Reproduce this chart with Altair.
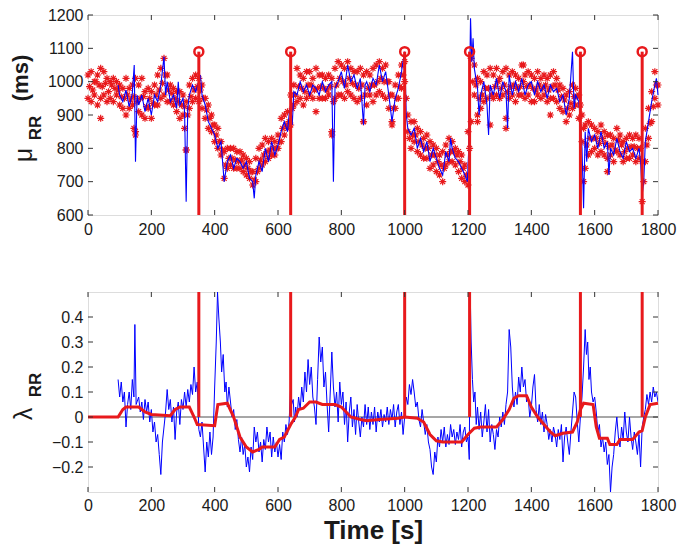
import altair as alt
import pandas as pd

W, H = 570, 200
RED = "#e8191c"
BLUE = "#0000ff"
FONT = "Liberation Sans"
AX = "#333333"

change_points = [350, 640, 1000, 1205, 1555, 1750]
marker_level = 1090

x_ticks = [0, 200, 400, 600, 800, 1000, 1200, 1400, 1600, 1800]
mu_ticks = [600, 700, 800, 900, 1000, 1100, 1200]
lam_ticks = [-0.2, -0.1, 0, 0.1, 0.2, 0.3, 0.4]

# ---- top panel: blue RR trace (ms)
mu_blue_t = [95, 100, 110, 120, 130, 140, 146, 150, 155, 160, 170, 180, 190, 200, 210, 220, 230, 240, 245, 250,
             260, 270, 280, 285, 290, 300, 305, 310, 315, 320, 330, 340, 350, 355, 360, 370, 380, 390, 400, 410,
             420, 430, 440, 450, 460, 470, 480, 490, 500, 510, 520, 525, 530, 540, 550, 560, 570, 580, 590, 600,
             610, 620, 630, 635, 640, 645, 650, 660, 670, 680, 690, 700, 710, 720, 730, 740, 750, 760, 770, 775,
             780, 790, 800, 810, 820, 830, 840, 850, 860, 870, 875, 880, 890, 900, 910, 920, 930, 940, 950, 960,
             970, 980, 990, 1000, 1005, 1010, 1020, 1030, 1040, 1050, 1060, 1070, 1080, 1090, 1100, 1110, 1120, 1130, 1140, 1145,
             1150, 1160, 1170, 1180, 1190, 1198, 1202, 1208, 1212, 1216, 1220, 1230, 1235, 1240, 1250, 1260, 1265, 1270, 1280, 1290,
             1300, 1310, 1320, 1325, 1330, 1340, 1350, 1360, 1370, 1380, 1390, 1400, 1410, 1420, 1430, 1440, 1450, 1460, 1470, 1480,
             1490, 1500, 1510, 1520, 1530, 1535, 1540, 1550, 1555, 1560, 1565, 1570, 1575, 1580, 1590, 1600, 1610, 1620, 1630, 1640,
             1645, 1650, 1660, 1670, 1680, 1690, 1700, 1710, 1720, 1730, 1740, 1745, 1750, 1755, 1760, 1770, 1780, 1790, 1795, 1800]
mu_blue_v = [990, 960, 940, 975, 925, 965, 1050, 760, 960, 930, 960, 910, 950, 900, 960, 940, 990, 1075, 960, 1000,
             940, 960, 920, 1000, 930, 950, 910, 640, 920, 960, 990, 970, 1000, 1020, 960, 930, 880, 860, 840, 800,
             820, 700, 760, 780, 740, 770, 760, 740, 760, 710, 700, 650, 720, 760, 730, 800, 760, 820, 780, 810,
             850, 880, 850, 900, 930, 870, 970, 960, 1000, 970, 990, 960, 990, 980, 960, 1000, 970, 990, 1000, 700,
             980, 1000, 1030, 980, 1050, 1000, 1020, 980, 1010, 870, 990, 1000, 970, 1010, 990, 1050, 1000, 1030, 960, 880,
             950, 980, 1030, 1090, 900, 860, 840, 860, 800, 830, 790, 820, 760, 800, 770, 740, 720, 790, 760, 830,
             800, 770, 760, 740, 720, 700, 790, 1190, 1060, 1130, 1040, 980, 900, 960, 1000, 930, 840, 990, 960, 1010,
             950, 1000, 970, 860, 1020, 960, 1000, 970, 1010, 960, 990, 1000, 960, 1000, 970, 990, 950, 990, 970, 980,
             940, 960, 900, 950, 1090, 920, 960, 940, 880, 800, 620, 850, 760, 860, 820, 840, 800, 850, 800, 820,
             720, 800, 780, 830, 790, 770, 820, 790, 800, 770, 800, 760, 660, 700, 820, 880, 940, 990, 1010, 960]

# ---- top panel: red asterisks (upper / lower rows every 10 s, middle row offset by 5 s)
star_t = list(range(0, 1801, 10))
star_hi = [1020, 1030, 1000, 1020, 1040, 1030, 1010, 1000, 1010, 1000,
           990, 980, 1010, 980, 990, 1010, 990, 1010, 970, 980,
           970, 990, 1020, 1040, 1070, 1020, 990, 980, 970, 970,
           960, 940, 990, 1010, 1020, 1010, 990, 950, 930, 900,
           870, 860, 820, 790, 800, 800, 800, 790, 790, 780,
           770, 760, 730, 770, 800, 810, 830, 820, 830, 820,
           840, 890, 900, 910, 960, 990, 1040, 1020, 1010, 1030,
           1030, 1010, 1040, 1020, 1020, 1010, 1020, 1010, 1040, 1060,
           1050, 1040, 1060, 1040, 1030, 1030, 1040, 1020, 1030, 1020,
           1040, 1050, 1060, 1040, 1050, 1000, 960, 990, 1020, 1050,
           1060, 900, 880, 880, 860, 850, 830, 840, 820, 810,
           800, 780, 790, 810, 830, 820, 800, 790, 780, 750,
           850, 1070, 1050, 1010, 1000, 1030, 1020, 1040, 1020, 1040,
           1010, 1030, 1040, 1020, 1030, 1020, 1010, 1050, 1020, 1030,
           1020, 1010, 1030, 1010, 1020, 1010, 1020, 1030, 1010, 990,
           980, 960, 970, 990, 980, 960, 900, 870, 880, 870,
           860, 850, 870, 850, 840, 840, 830, 860, 840, 820,
           830, 840, 830, 840, 830, 760, 860, 920, 970, 1030,
           990]
star_lo = [950, 940, 960, 930, 950, 960, 940, 950, 940, 960,
           930, 920, 900, 920, 930, 850, 910, 900, 890, 920,
           890, 930, 930, 950, 960, 940, 940, 930, 910, 890,
           900, 795, 920, 940, 950, 940, 920, 890, 860, 850,
           820, 800, 780, 710, 740, 750, 740, 740, 740, 730,
           720, 710, 690, 700, 740, 750, 760, 770, 780, 780,
           800, 820, 840, 860, 870, 930, 940, 950, 930, 950,
           960, 950, 910, 950, 950, 950, 960, 840, 950, 960,
           960, 950, 970, 960, 950, 940, 950, 880, 930, 960,
           940, 960, 970, 960, 950, 920, 880, 920, 950, 980,
           1000, 850, 800, 820, 790, 780, 770, 770, 740, 750,
           730, 720, 700, 750, 760, 760, 750, 730, 710, 700,
           690, 880, 960, 900, 920, 940, 950, 870, 950, 960,
           950, 960, 890, 950, 960, 940, 960, 960, 950, 960,
           940, 940, 960, 950, 960, 940, 950, 950, 940, 920,
           910, 880, 900, 920, 930, 890, 820, 740, 780, 790,
           800, 780, 790, 780, 770, 780, 760, 790, 780, 760,
           770, 770, 780, 760, 770, 640, 760, 830, 880, 950,
           930]
star_mid_t = list(range(5, 1800, 10))
star_mid = [985, 975, 1000, 990, 985, 995, 970, 990, 980, 975,
            955, 950, 960, 945, 955, 940, 950, 955, 925, 950,
            935, 960, 975, 995, 1020, 975, 965, 950, 940, 930,
            925, 900, 955, 975, 985, 975, 950, 915, 890, 870,
            840, 820, 795, 750, 770, 770, 765, 760, 765, 750,
            740, 730, 705, 730, 765, 780, 790, 795, 800, 800,
            820, 860, 870, 880, 920, 960, 985, 980, 970, 990,
            990, 975, 980, 985, 980, 975, 985, 940, 990, 1010,
            1000, 990, 1010, 995, 990, 980, 990, 960, 980, 990,
            990, 1000, 1010, 1000, 1000, 960, 920, 950, 985, 1020,
            950, 830, 840, 840, 820, 810, 800, 800, 780, 780,
            760, 750, 740, 780, 790, 790, 780, 760, 740, 720,
            800, 1000, 990, 950, 960, 980, 980, 960, 985, 1000,
            980, 990, 970, 985, 990, 980, 985, 1000, 985, 990,
            980, 975, 990, 980, 990, 975, 985, 990, 975, 955,
            945, 920, 935, 955, 955, 930, 860, 810, 830, 830,
            830, 815, 830, 815, 805, 810, 795, 825, 810, 790,
            800, 805, 805, 800, 800, 700, 810, 875, 925, 990]
out_t = [40, 145, 150, 305, 310, 770, 870, 960, 1230, 1320, 1375, 1460, 1565, 1640]
out_v = [890, 860, 840, 860, 795, 850, 880, 870, 880, 860, 1050, 900, 700, 730]

# ---- bottom panel: blue lambda trace
lam_blue_t = [95, 100, 105, 110, 115, 120, 125, 130, 135, 140, 145, 148, 152, 160, 165, 170, 175, 180, 185, 190,
              195, 200, 205, 210, 215, 220, 225, 230, 235, 240, 245, 250, 255, 260, 265, 270, 275, 280, 285, 290,
              295, 300, 305, 310, 315, 320, 325, 330, 335, 340, 345, 350, 355, 360, 365, 370, 375, 380, 385, 390,
              395, 400, 405, 409, 413, 418, 422, 427, 432, 436, 440, 445, 450, 455, 460, 465, 470, 475, 480, 485,
              490, 495, 500, 505, 510, 515, 520, 525, 530, 535, 540, 545, 550, 555, 560, 565, 570, 575, 580, 585,
              590, 595, 600, 605, 610, 615, 620, 625, 630, 635, 640, 643, 648, 652, 656, 660, 665, 670, 675, 680,
              685, 690, 695, 700, 705, 710, 715, 720, 725, 730, 735, 740, 745, 750, 755, 760, 765, 770, 775, 780,
              785, 790, 795, 800, 805, 810, 815, 820, 825, 830, 835, 840, 845, 850, 855, 860, 865, 870, 875, 880,
              885, 890, 895, 900, 905, 910, 915, 920, 925, 930, 935, 940, 945, 950, 955, 960, 965, 970, 975, 980,
              985, 990, 995, 1000, 1005, 1010, 1015, 1020, 1025, 1030, 1035, 1040, 1045, 1050, 1055, 1060, 1065, 1070, 1075, 1080,
              1085, 1090, 1095, 1100, 1105, 1110, 1115, 1120, 1125, 1130, 1135, 1140, 1145, 1150, 1155, 1160, 1165, 1170, 1175, 1180,
              1185, 1190, 1195, 1200, 1204, 1207, 1210, 1214, 1218, 1222, 1226, 1230, 1235, 1240, 1245, 1250, 1255, 1260, 1265, 1270,
              1275, 1280, 1285, 1290, 1295, 1300, 1305, 1310, 1315, 1320, 1325, 1330, 1335, 1340, 1345, 1350, 1355, 1360, 1365, 1370,
              1375, 1380, 1385, 1390, 1395, 1400, 1405, 1410, 1415, 1420, 1425, 1430, 1435, 1440, 1445, 1450, 1455, 1460, 1465, 1470,
              1475, 1480, 1485, 1490, 1495, 1500, 1505, 1510, 1515, 1520, 1525, 1530, 1535, 1540, 1545, 1550, 1555, 1560, 1565, 1570,
              1574, 1578, 1582, 1586, 1590, 1595, 1600, 1605, 1610, 1615, 1620, 1625, 1630, 1635, 1640, 1645, 1650, 1655, 1660, 1665,
              1670, 1675, 1680, 1685, 1690, 1695, 1700, 1705, 1710, 1715, 1720, 1725, 1730, 1735, 1740, 1745, 1750, 1755, 1760, 1765,
              1770, 1775, 1780, 1785, 1790, 1795, 1800]
lam_blue_v = [0.15, 0.08, 0.14, 0.06, 0.1, -0.04, 0.05, 0.1, 0.03, 0.15, 0.08, 0.37, 0.05, 0.08, 0.02, 0.06, -0.01, 0.07, 0.02, 0.06,
              -0.02, 0.03, -0.06, -0.02, -0.1, -0.07, -0.15, -0.23, -0.1, -0.04, 0.02, 0.11, 0.03, 0.07, -0.02, 0.04, -0.09, 0.02, 0.06, -0.03,
              0.07, 0.03, 0.1, 0.04, 0.11, 0.06, 0.13, 0.09, 0.2, 0.1, 0.14, -0.05, -0.08, -0.02, -0.12, -0.22, -0.1, -0.16, -0.06, -0.15,
              -0.08, 0.12, 0.3, 0.5, 0.4, 0.3, 0.18, 0.25, 0.1, 0.14, 0.04, 0.12, 0.06, 0.0, 0.03, -0.05, -0.01, -0.09, -0.14, -0.08,
              -0.15, -0.11, -0.2, -0.16, -0.22, -0.12, -0.17, -0.04, -0.1, -0.06, -0.14, -0.1, -0.18, -0.09, -0.13, -0.04, -0.1, -0.06, -0.16, -0.08,
              -0.14, -0.1, -0.16, -0.11, -0.17, -0.06, -0.1, -0.03, -0.07, -0.02, 0.12, 0.05, 0.07, -0.02, 0.04, 0.0, 0.08, 0.03, 0.12, 0.06,
              0.18, 0.1, 0.23, 0.13, 0.2, 0.08, 0.04, -0.03, 0.15, 0.32, 0.22, 0.28, 0.12, 0.18, 0.05, -0.06, 0.1, 0.26, 0.12, 0.04,
              0.1, -0.02, 0.14, 0.05, 0.1, -0.03, 0.06, -0.1, 0.02, 0.08, -0.04, 0.03, -0.07, 0.05, -0.02, -0.08, 0.0, -0.04, 0.05, -0.03,
              0.04, -0.05, 0.02, -0.03, 0.04, -0.06, 0.02, -0.02, 0.03, -0.04, 0.01, -0.02, 0.04, -0.03, 0.03, -0.01, 0.05, -0.04, 0.02, 0.05,
              -0.03, 0.02, -0.07, 0.0, 0.08, 0.05, 0.13, 0.09, 0.15, 0.1, 0.04, 0.06, -0.01, -0.04, 0.03, -0.02, -0.07, -0.03, -0.1, -0.13,
              -0.2, -0.23, -0.14, -0.18, -0.08, -0.12, -0.05, -0.1, -0.04, -0.12, -0.07, -0.11, -0.03, -0.08, -0.05, -0.11, -0.06, -0.09, -0.03, -0.12,
              -0.06, -0.04, -0.1, -0.08, -0.17, 0.5, 0.3, 0.15, 0.06, 0.1, -0.03, 0.04, -0.05, 0.02, -0.08, -0.02, 0.05, -0.06, 0.03, -0.1,
              -0.03, -0.07, -0.13, -0.05, -0.08, 0.0, -0.04, 0.02, -0.03, 0.05, 0.1, 0.35, 0.28, 0.12, 0.04, 0.1, 0.05, 0.16, 0.1, 0.2,
              0.12, 0.15, 0.06, 0.08, 0.0, 0.04, 0.12, 0.17, 0.03, -0.02, 0.05, -0.03, 0.02, -0.06, 0.01, -0.03, -0.09, -0.05, -0.1, -0.04,
              -0.07, -0.12, -0.05, -0.09, -0.03, -0.18, -0.08, -0.04, -0.1, -0.15, -0.06, 0.02, 0.1, 0.08, -0.02, -0.1, 0.0, 0.08, 0.2, 0.35,
              0.25, 0.3, 0.15, 0.2, 0.1, 0.06, 0.08, 0.02, -0.06, -0.03, -0.12, -0.08, -0.14, -0.1, -0.19, -0.15, -0.3, -0.2, -0.15, -0.06,
              0.0, -0.08, -0.12, -0.04, -0.09, 0.02, -0.06, -0.1, 0.0, -0.08, -0.13, -0.06, -0.1, -0.15, -0.07, -0.2, -0.04, 0.0, 0.03, 0.09,
              0.05, 0.1, 0.06, 0.12, 0.08, 0.1, 0.06]

# ---- bottom panel: red smoothed lambda
lam_red_t = [0, 95, 110, 120, 160, 180, 200, 260, 275, 290, 320, 335, 345, 400, 410, 440, 460, 480, 500, 520,
             540, 550, 590, 605, 620, 640, 655, 665, 680, 700, 720, 740, 780, 800, 830, 860, 880, 920, 980, 1000,
             1040, 1060, 1080, 1100, 1120, 1180, 1200, 1220, 1240, 1290, 1310, 1330, 1345, 1360, 1385, 1400, 1420, 1440, 1460, 1475,
             1500, 1530, 1545, 1555, 1565, 1595, 1605, 1615, 1640, 1648, 1670, 1680, 1720, 1740, 1750, 1760, 1775, 1800]
lam_red_v = [0, 0, 0.03, 0.04, 0.04, 0.02, 0.01, 0.005, 0.03, 0.04, 0.04, 0.0, -0.03, -0.035, 0.05, 0.055, 0.0, -0.08, -0.12, -0.14,
             -0.13, -0.12, -0.12, -0.09, -0.08, -0.03, 0.0, 0.03, 0.035, 0.06, 0.06, 0.05, 0.05, 0.04, 0.0, -0.01, -0.015, -0.01, -0.005, 0.0,
             -0.005, -0.02, -0.07, -0.095, -0.1, -0.1, -0.07, -0.045, -0.04, -0.04, -0.01, 0.03, 0.075, 0.085, 0.085, 0.04, 0.0, -0.03, -0.06, -0.075,
             -0.065, -0.06, -0.02, 0.03, 0.055, 0.05, -0.04, -0.085, -0.085, -0.11, -0.11, -0.09, -0.09, -0.06, -0.055, 0.0, 0.05, 0.055]

# ---------------- data frames
mu_blue = pd.DataFrame({"t": mu_blue_t, "v": mu_blue_v})
stars = pd.DataFrame({"t": star_t + star_t + star_mid_t + out_t,
                      "v": star_hi + star_lo + star_mid + out_v})
cp_top = pd.DataFrame({"t": change_points, "v": [600] * len(change_points),
                       "v2": [marker_level] * len(change_points)})
cp_mark = pd.DataFrame({"t": change_points, "v": [marker_level] * len(change_points)})
lam_blue = pd.DataFrame({"t": lam_blue_t, "v": lam_blue_v})
lam_red = pd.DataFrame({"t": lam_red_t, "v": lam_red_v})
cp_bot = pd.DataFrame({"t": change_points, "v": [0] * len(change_points),
                       "v2": [0.5] * len(change_points)})
zero_line = pd.DataFrame({"t": [0], "t2": [1800], "v": [0]})
xt = pd.DataFrame({"t": x_ticks})
mut = pd.DataFrame({"v": mu_ticks})
lamt = pd.DataFrame({"v": lam_ticks})

ax = dict(ticks=False, domain=False, grid=False, labelFont=FONT, labelFontSize=16,
          labelColor="#1a1a1a", labelOverlap=False, labelFlush=False)

X_top = alt.X("t:Q", scale=alt.Scale(domain=[0, 1800], nice=False),
              axis=alt.Axis(values=x_ticks, format="d", labelPadding=6, title=None, **ax))
Y_top = alt.Y("v:Q", scale=alt.Scale(domain=[600, 1200], nice=False),
              axis=alt.Axis(values=mu_ticks, format="d", labelPadding=5, title=None, **ax))
X_bot = alt.X("t:Q", scale=alt.Scale(domain=[0, 1800], nice=False),
              axis=alt.Axis(values=x_ticks, format="d", labelPadding=5, title="Time [s]",
                            titleFont=FONT, titleFontSize=26, titleFontWeight="bold",
                            titleColor="#1a1a1a", titlePadding=4, **ax))
Y_bot = alt.Y("v:Q", scale=alt.Scale(domain=[-0.3, 0.5], nice=False),
              axis=alt.Axis(values=lam_ticks, labelPadding=5, title=None,
                            labelExpr="datum.value == 0 ? '0' : format(datum.value, '.1f')", **ax))

asterisk = "M-1,0L1,0M0,-1L0,1M-0.7,-0.7L0.7,0.7M-0.7,0.7L0.7,-0.7"


def inner_ticks(xenc, yenc, ydf):
    L = 5
    bx = alt.Chart(xt).mark_rule(color=AX, strokeWidth=1).encode(x=xenc, y=alt.value(H), y2=alt.value(H - L))
    tx = alt.Chart(xt).mark_rule(color=AX, strokeWidth=1).encode(x=xenc, y=alt.value(0), y2=alt.value(L))
    ly = alt.Chart(ydf).mark_rule(color=AX, strokeWidth=1).encode(y=yenc, x=alt.value(0), x2=alt.value(L))
    ry = alt.Chart(ydf).mark_rule(color=AX, strokeWidth=1).encode(y=yenc, x=alt.value(W), x2=alt.value(W - L))
    return [bx, tx, ly, ry]


def label(txt, x, y, size, weight):
    return alt.Chart(pd.DataFrame({"s": [txt]})).mark_text(
        angle=270, align="center", baseline="alphabetic", font=FONT, fontSize=size,
        fontWeight=weight, color="#1a1a1a").encode(x=alt.value(x), y=alt.value(y), text="s:N")


anchor_df = pd.DataFrame({"a": [0]})


def anchor():
    return alt.Chart(anchor_df).mark_rule(opacity=0).encode(
        x=alt.value(-92), x2=alt.value(-91), y=alt.value(100))


top = alt.layer(
    alt.Chart(stars).mark_point(shape=asterisk, filled=False, color=RED, size=50, strokeWidth=1.2,
                                opacity=1).encode(x=X_top, y=Y_top),
    alt.Chart(mu_blue).mark_line(color=BLUE, strokeWidth=1.1).encode(x=X_top, y=Y_top),
    alt.Chart(cp_top).mark_rule(color=RED, strokeWidth=3).encode(x=X_top, y=Y_top, y2="v2:Q"),
    alt.Chart(cp_mark).mark_point(shape="circle", filled=False, color=RED, size=80, strokeWidth=2.5,
                                  opacity=1).encode(x=X_top, y=Y_top),
    *inner_ticks(X_top, Y_top, mut),
    label("μ", -56, 140, 25, "normal"),
    label("RR", -47, 113, 17, "bold"),
    label("(ms)", -60, 63, 22, "bold"),
    anchor(),
).properties(width=W, height=H)

bottom = alt.layer(
    alt.Chart(zero_line).mark_rule(color="#222", strokeWidth=0.8).encode(x=X_bot, x2="t2:Q", y=Y_bot),
    alt.Chart(lam_blue).mark_line(color=BLUE, strokeWidth=1, clip=True).encode(x=X_bot, y=Y_bot),
    alt.Chart(lam_red).mark_line(color=RED, strokeWidth=3).encode(x=X_bot, y=Y_bot),
    alt.Chart(cp_bot).mark_rule(color=RED, strokeWidth=3).encode(x=X_bot, y=Y_bot, y2="v2:Q"),
    *inner_ticks(X_bot, Y_bot, lamt),
    label("λ", -56, 122, 25, "normal"),
    label("RR", -47, 93, 17, "bold"),
    anchor(),
).properties(width=W, height=H)

chart = alt.vconcat(top, bottom, spacing=52).properties(
    padding={"left": -13, "top": -2, "right": 0, "bottom": 0}
).configure_view(stroke=AX, strokeWidth=1).configure(background="white")

chart.save("out.html", embed_options={"renderer": "svg", "actions": False})
